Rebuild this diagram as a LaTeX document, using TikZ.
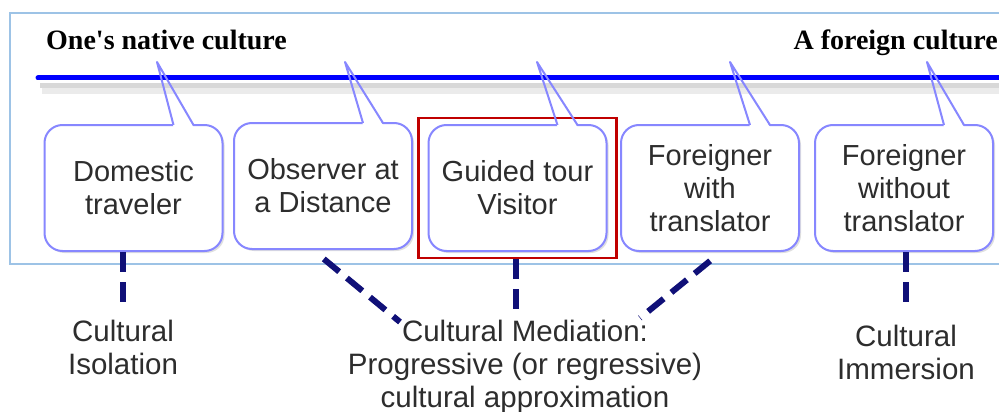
\documentclass[tikz,border=0pt]{standalone}
\usepackage{fontspec}
\setmainfont{Liberation Sans}
\newfontfamily\titlefont{Liberation Serif}
\usetikzlibrary{fit,shadows}
\definecolor{framebl}{RGB}{157,195,230}
\definecolor{callbl}{RGB}{135,135,255}
\definecolor{navyd}{RGB}{16,16,120}
\definecolor{hlred}{RGB}{192,0,0}
\definecolor{txtgray}{RGB}{45,45,45}

\begin{document}
\begin{tikzpicture}[x=1pt,y=-1pt,
  bubble/.style={draw=callbl,line width=2pt,rounded corners=18pt,fill=white,
    minimum width=178pt,minimum height=126pt,inner sep=0pt,align=center,
    text=txtgray,font=\fontsize{29}{33}\selectfont,
    drop shadow={shadow xshift=2pt,shadow yshift=-2pt,opacity=0.25}},
  tail/.style={draw=callbl,line width=2pt,line join=round},
  note/.style={align=center,text=txtgray,font=\fontsize{29.5}{33}\selectfont,inner sep=6pt},
  heading/.style={inner sep=0pt,font=\titlefont\bfseries\fontsize{28}{32}\selectfont},
  link/.style={draw=navyd,line width=6pt,dash pattern=on 20pt off 10pt}]
\clip (0,0) rectangle (999,412);
\fill[white] (0,0) rectangle (999,412);
\draw[framebl,line width=2pt] (10,13) rectangle (1010,264);

\node[heading,anchor=base west] (native) at (46,50) {One's native culture};
\node[heading,anchor=base east] (foreign) at (998,50) {A foreign culture};

\node[bubble] (dom) at (133.5,188) {Domestic\\traveler};
\node[bubble] (obs) at (323,186) {Observer at\\a Distance};
\node[bubble] (guide) at (517.5,188) {Guided tour\\Visitor};
\node[bubble] (fwith) at (710,188) {Foreigner\\with\\translator};
\node[bubble] (fwo) at (904,188) {Foreigner\\without\\translator};

\foreach \n/\t in {dom/157,obs/345,guide/537,fwith/730,fwo/927}{
  \coordinate (\n-tip) at (\t,62);
  \fill[white] ([xshift=-50pt,yshift=-3pt]\n.north east) -- (\n-tip) -- ([xshift=-30pt,yshift=-3pt]\n.north east) -- cycle;
}

\draw[gray!50,line width=5pt,opacity=.6] (40,86) -- (1005,86);
\draw[gray!30,line width=6pt,opacity=.5] (42,91) -- (1005,91);
\draw[blue,line width=5pt,line cap=round] (38,78) -- (1005,78);

\node[draw=hlred,line width=2.5pt,fit=(guide),inner xsep=9pt,inner ysep=6pt] (hl) {};

\foreach \n in {dom,obs,guide,fwith,fwo}{
  \draw[tail] ([xshift=-50pt,yshift=-1pt]\n.north east) -- (\n-tip) -- ([xshift=-30pt,yshift=-1pt]\n.north east);
}

\node[note] (iso) at (123,347) {Cultural\\Isolation};
\node[note,anchor=north] (med) at (525,314) {Cultural Mediation:\\Progressive (or regressive)\\cultural approximation};
\node[note] (imm) at (906,352) {Cultural\\Immersion};

\coordinate (med-l) at ([xshift=-125pt,yshift=-8pt]med.north);
\coordinate (med-r) at ([xshift=115pt,yshift=-4pt]med.north);

\draw[link,shorten >=8pt] (iso.north |- dom.south) -- (iso.north);
\draw[link,shorten <=14pt] ([xshift=-10pt]obs.south) -- (med-l);
\draw[link,shorten >=4pt] (hl.south -| 516,0) -- (med.north -| 516,0);
\draw[link,shorten <=14pt] ([xshift=11pt]fwith.south) -- (med-r);
\draw[link,shorten >=8pt] (imm.north |- fwo.south) -- (imm.north);
\end{tikzpicture}
\end{document}
